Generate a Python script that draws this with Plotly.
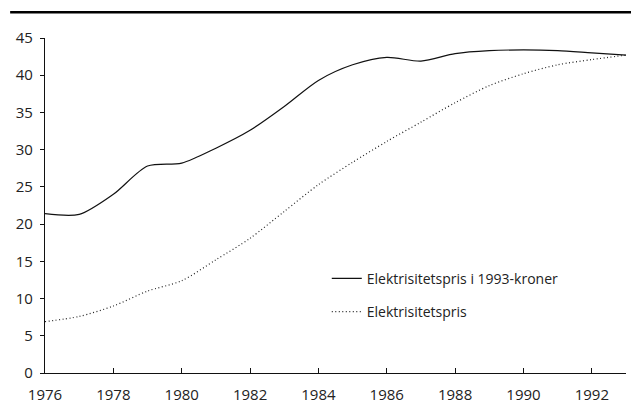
import plotly.graph_objects as go

years = list(range(1976, 1994))
real_price = [21.4, 21.3, 24.0, 27.8, 28.2, 30.2, 32.6, 35.8, 39.3, 41.4, 42.4, 41.9,
              42.9, 43.3, 43.4, 43.3, 43.0, 42.7]
nominal_price = [6.9, 7.6, 9.0, 11.0, 12.4, 15.2, 18.1, 21.7, 25.3, 28.3, 31.1, 33.7,
                 36.3, 38.6, 40.2, 41.4, 42.1, 42.7]
series_names = ["Elektrisitetspris i 1993-kroner", "Elektrisitetspris"]
x_ticks = list(range(1976, 1994, 2))
y_ticks = list(range(0, 50, 5))

font = "Open Sans, Noto Sans, sans-serif"

fig = go.Figure()
fig.add_trace(go.Scatter(x=years, y=real_price, name=series_names[0], mode="lines",
                         line=dict(color="#111", width=1.2, shape="spline", smoothing=0.8),
                         legendgroup="a"))
fig.add_trace(go.Scatter(x=years, y=nominal_price, name=series_names[1], mode="lines",
                         line=dict(color="#222", width=1.2, dash="1px,2.5px", shape="spline", smoothing=0.8),
                         legendgroup="b"))

fig.update_layout(
    width=631, height=412,
    margin=dict(l=37, r=13, t=30, b=47, autoexpand=False),
    paper_bgcolor="white", plot_bgcolor="white",
    font=dict(family=font, size=15, color="#222"),
    showlegend=True,
    legend=dict(x=0.485, y=0.232, xanchor="left", yanchor="middle",
                bgcolor="rgba(0,0,0,0)", traceorder="grouped", tracegroupgap=12,
                itemwidth=30, font=dict(size=14)),
    xaxis=dict(range=[1976, 1993], tickvals=x_ticks, ticks="inside", ticklen=5,
               tickcolor="#111", showline=True, linecolor="#111", linewidth=1.3,
               showgrid=False, zeroline=False, ticklabelstandoff=8, automargin=False),
    yaxis=dict(range=[0, 45], tickvals=y_ticks, ticks="outside", ticklen=4,
               tickcolor="#111", showline=True, linecolor="#111", linewidth=1.3,
               showgrid=False, zeroline=False, ticklabelstandoff=4, automargin=False),
    shapes=[dict(type="line", xref="paper", yref="paper", x0=-0.06, x1=1.03,
                 y0=1.077, y1=1.077, line=dict(color="black", width=2.5))],
)

fig.write_html("out.html")
